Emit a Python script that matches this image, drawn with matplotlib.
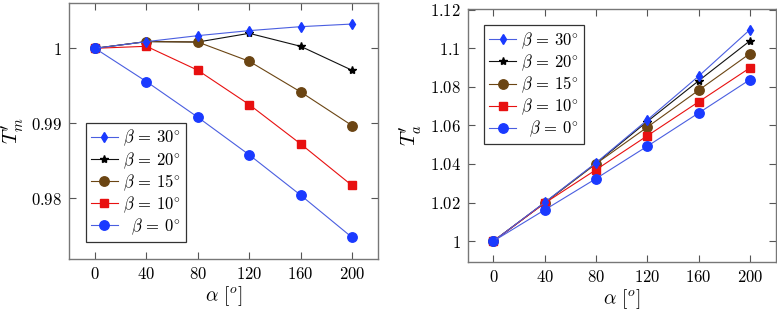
import matplotlib
matplotlib.use("Agg")
import matplotlib.pyplot as plt
from matplotlib.ticker import FixedLocator, FuncFormatter

plt.rcParams['mathtext.fontset'] = 'cm'
plt.rcParams['font.family'] = ['DejaVu Serif']

alpha = [0, 40, 80, 120, 160, 200]
labels = [r"$\beta\,=\,30^{\!\circ}$", r"$\beta\,=\,20^{\!\circ}$", r"$\beta\,=\,15^{\!\circ}$",
          r"$\beta\,=\,10^{\!\circ}$", r"$\;\;\beta\,=\,0^{\!\circ}$"]

Tm_b30 = [1.0, 1.00089, 1.00169, 1.00236, 1.00289, 1.00324]
Tm_b20 = [1.0, 1.0009, 1.00084, 1.0020, 1.00027, 0.99707]
Tm_b15 = [1.0, 1.0009, 1.00084, 0.99827, 0.99418, 0.98969]
Tm_b10 = [1.0, 1.00027, 0.99707, 0.99249, 0.98724, 0.98169]
Tm_b0 = [1.0, 0.99556, 0.9908, 0.98578, 0.9804, 0.97476]

Ta_b30 = [1.0, 1.0201, 1.0406, 1.0628, 1.0855, 1.1096]
Ta_b20 = [1.0, 1.0199, 1.0403, 1.0620, 1.0831, 1.1038]
Ta_b15 = [1.0, 1.0199, 1.0401, 1.0591, 1.0782, 1.0972]
Ta_b10 = [1.0, 1.0197, 1.0370, 1.0546, 1.0722, 1.0898]
Ta_b0 = [1.0, 1.0162, 1.0324, 1.0492, 1.0664, 1.0837]

xticks = [0, 40, 80, 120, 160, 200]
yticks_m = [0.98, 0.99, 1.0]
yticks_a = [1.0, 1.02, 1.04, 1.06, 1.08, 1.1, 1.12]

blue_line = '#4a5ee0'
blue_mk = '#1a3aff'
styles = [
    dict(color=blue_line, marker='d', mfc=blue_mk, mec=blue_mk, ms=5),
    dict(color='#111111', marker='*', mfc='black', mec='black', ms=6),
    dict(color='#6b4513', marker='o', mfc='#6b4513', mec='#6b4513', ms=6.8),
    dict(color='#e81010', marker='s', mfc='#e81010', mec='#e81010', ms=6.2),
    dict(color=blue_line, marker='o', mfc=blue_mk, mec=blue_mk, ms=6.8),
]

def fmt(v, pos):
    s = ('%.2f' % v).rstrip('0').rstrip('.')
    return '$%s$' % s

W, H = 777, 314
fig = plt.figure(figsize=(W / 100, H / 100), dpi=100)
ax1 = fig.add_axes([69.3 / W, 1 - 258.7 / H, (377.7 - 69.3) / W, (258.7 - 2.7) / H])
ax2 = fig.add_axes([467.7 / W, 1 - 262.3 / H, (775.5 - 467.7) / W, (262.3 - 8.6) / H])

def draw(ax, series, yticks, ylim, ylabel, legloc):
    order = [1, 2, 3, 4, 0]
    handles = [None] * 5
    for i in order:
        h, = ax.plot(alpha, series[i], lw=0.8, label=labels[i], zorder=2 + order.index(i), **styles[i])
        handles[i] = h
    ax.set_xlim(-20, 220)
    ax.set_ylim(*ylim)
    ax.xaxis.set_major_locator(FixedLocator(xticks))
    ax.yaxis.set_major_locator(FixedLocator(yticks))
    ax.xaxis.set_major_formatter(FuncFormatter(fmt))
    ax.yaxis.set_major_formatter(FuncFormatter(fmt))
    ax.tick_params(direction='in', length=5, width=0.8, color='#555555',
                   top=True, right=True, labelsize=12, pad=5)
    for sp in ax.spines.values():
        sp.set_color('#777777')
        sp.set_linewidth(1.0)
    ax.set_xlabel(r"$\alpha\ [^o]$", fontsize=14, labelpad=1)
    ax.set_ylabel(ylabel, fontsize=15, labelpad=4)
    leg = ax.legend(handles=handles, loc=legloc, fontsize=12, frameon=True, fancybox=False,
                    edgecolor='#333333', framealpha=1, handlelength=1.6, handletextpad=0.3,
                    borderpad=0.3, labelspacing=0.1, borderaxespad=1.0)
    leg.get_frame().set_linewidth(0.9)

draw(ax1, [Tm_b30, Tm_b20, Tm_b15, Tm_b10, Tm_b0], yticks_m, (0.97191, 1.00609), r"$T_m'$", 'lower left')
draw(ax2, [Ta_b30, Ta_b20, Ta_b15, Ta_b10, Ta_b0], yticks_a, (0.98904, 1.12056), r"$T_a'$", 'upper left')

fig.savefig('out.png', dpi=100)
